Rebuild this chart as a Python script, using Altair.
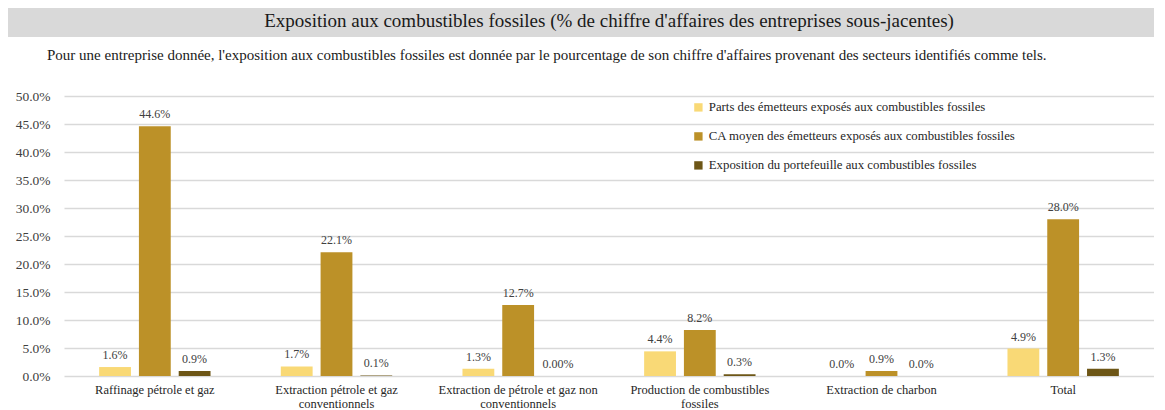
import altair as alt
import pandas as pd

categories = [
    "Raffinage pétrole et gaz",
    "Extraction pétrole et gaz|conventionnels",
    "Extraction de pétrole et gaz non|conventionnels",
    "Production de combustibles|fossiles",
    "Extraction de charbon",
    "Total",
]
series = [
    "Parts des émetteurs exposés aux combustibles fossiles",
    "CA moyen des émetteurs exposés aux combustibles fossiles",
    "Exposition du portefeuille aux combustibles fossiles",
]
colors = ["#F9D976", "#BC9128", "#6D5616"]

parts = [0.016, 0.017, 0.013, 0.044, 0.000, 0.049]
ca_moyen = [0.446, 0.221, 0.127, 0.082, 0.009, 0.280]
expo = [0.009, 0.001, 0.000, 0.003, 0.000, 0.013]

parts_labels = ["1.6%", "1.7%", "1.3%", "4.4%", "0.0%", "4.9%"]
ca_labels = ["44.6%", "22.1%", "12.7%", "8.2%", "0.9%", "28.0%"]
expo_labels = ["0.9%", "0.1%", "0.00%", "0.3%", "0.0%", "1.3%"]

y_ticks = [0.0, 0.05, 0.10, 0.15, 0.20, 0.25, 0.30, 0.35, 0.40, 0.45, 0.50]

title_text = "Exposition aux combustibles fossiles (% de chiffre d'affaires des entreprises sous-jacentes)"
subtitle_text = ("Pour une entreprise donnée, l'exposition aux combustibles fossiles est donnée par le "
                 "pourcentage de son chiffre d'affaires provenant des secteurs identifiés comme tels.")

rows = []
for vals, labs, s in [(parts, parts_labels, series[0]), (ca_moyen, ca_labels, series[1]), (expo, expo_labels, series[2])]:
    for c, v, l in zip(categories, vals, labs):
        rows.append({"cat": c, "series": s, "value": v, "label": l})
df = pd.DataFrame(rows)

FONT = "Liberation Serif"
W, H = 1090, 280

x = alt.X(
    "cat:N", sort=categories,
    scale=alt.Scale(paddingInner=0.343, paddingOuter=0.1715),
    axis=alt.Axis(title=None, labelAngle=0, domain=False, ticks=False,
                  labelExpr="split(datum.label, '|')", labelFont=FONT, labelFontSize=12.5,
                  labelColor="#262626", labelPadding=7, labelLineHeight=14, labelOverlap=False),
)
xoff = alt.XOffset("series:N", sort=series, scale=alt.Scale(paddingInner=0.2, paddingOuter=0.1))
y = alt.Y(
    "value:Q",
    scale=alt.Scale(domain=[0, 0.5]),
    axis=alt.Axis(title=None, format=".1%", values=y_ticks,
                  domain=False, ticks=False, gridColor="#d9d9d9", gridWidth=1.5,
                  labelOverlap=False, labelBound=False, labelFont=FONT, labelFontSize=13.5,
                  labelColor="#404040", labelPadding=14),
)

bars = alt.Chart(df).mark_bar().encode(
    x=x, xOffset=xoff, y=y,
    color=alt.Color("series:N", sort=series,
                    scale=alt.Scale(domain=series, range=colors),
                    legend=alt.Legend(title=None, orient="none", legendX=628, legendY=5,
                                      symbolType="square", symbolSize=70, symbolStrokeWidth=0,
                                      labelFont=FONT, labelFontSize=12.8, labelColor="#262626",
                                      rowPadding=15, padding=0, labelLimit=400)),
)

labels = alt.Chart(df).mark_text(baseline="bottom", dy=-5, font=FONT, fontSize=12, color="#404040").encode(
    x=x, xOffset=xoff, y=y, text="label:N"
)

hdr = pd.DataFrame({"t": [title_text], "s": [subtitle_text]})
band = alt.Chart(hdr).mark_rect(color="#d9d9d9").encode(
    x=alt.value(-56), x2=alt.value(W + 10), y=alt.value(-88), y2=alt.value(-59)
)
title = alt.Chart(hdr).mark_text(font=FONT, fontSize=19, color="#1a1a1a", align="center", baseline="middle").encode(
    x=alt.value(545), y=alt.value(-75), text="t:N"
)
subtitle = alt.Chart(hdr).mark_text(font=FONT, fontSize=15, color="#1a1a1a", align="left", baseline="middle").encode(
    x=alt.value(-17), y=alt.value(-41), text="s:N"
)

chart = alt.layer(band, title, subtitle, bars, labels).properties(
    width=W, height=H,
    autosize=alt.AutoSizeParams(type="none"),
    padding={"left": 56, "top": 88, "right": 0, "bottom": 36},
).configure_view(stroke=None).configure_axisY(labelOverlap=False)

chart.save("out.html", embed_options={"renderer": "svg", "actions": False})
